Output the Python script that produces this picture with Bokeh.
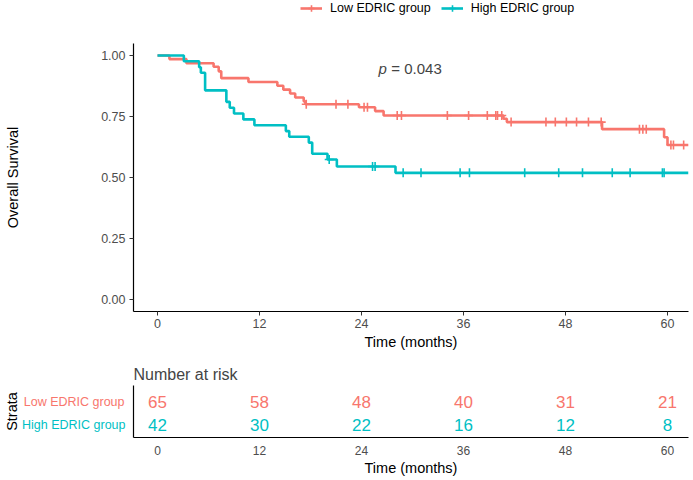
import numpy as np
from bokeh.plotting import figure
from bokeh.layouts import column
from bokeh.models import Range1d, FixedTicker, Legend, LegendItem, Label, LinearAxis
from bokeh.embed import file_html
from bokeh.resources import INLINE

# ---------------- data ----------------
groups = ["Low EDRIC group", "High EDRIC group"]
colors = ["#F8766D", "#00BFC4"]

low_times = [0, 1.4, 3.4, 6.6, 7.2, 7.5, 10.7, 14.1, 14.8, 15.6, 16.2, 17.2, 17.4,
             23.7, 25.6, 26.6, 40.7, 41.1, 52.3, 59.6, 60.0]
low_surv = [1.0, 0.985, 0.968, 0.954, 0.935, 0.907, 0.891, 0.876, 0.860, 0.844, 0.828,
            0.812, 0.800, 0.788, 0.772, 0.754, 0.741, 0.727, 0.698, 0.665, 0.633]
low_censor = [17.5, 21.0, 22.4, 24.3, 24.7, 28.2, 28.7, 34.1, 36.6, 38.8, 39.8, 40.0,
              40.5, 41.6, 45.7, 46.8, 48.1, 49.3, 50.7, 52.2, 56.7, 57.1, 57.5, 60.4,
              60.7, 61.9]

high_times = [0, 3.1, 4.9, 5.1, 5.6, 8.1, 8.5, 9.0, 10.1, 11.4, 15.1, 15.5, 17.8, 18.2,
              20.0, 21.1, 28.0]
high_surv = [1.0, 0.976, 0.952, 0.929, 0.857, 0.810, 0.786, 0.762, 0.738, 0.714, 0.690,
             0.667, 0.643, 0.597, 0.574, 0.545, 0.519]
high_censor = [20.2, 25.3, 25.6, 28.9, 31.0, 35.6, 36.7, 43.2, 47.2, 50.0, 53.5, 55.6,
               59.4, 59.6]

risk_times = [0, 12, 24, 36, 48, 60]
low_risk = [65, 58, 48, 40, 31, 21]
high_risk = [42, 30, 22, 16, 12, 8]

x_ticks = [0, 12, 24, 36, 48, 60]
y_ticks = [0.0, 0.25, 0.5, 0.75, 1.0]
p_text = "= 0.043"

X_START = -2.824
X_END = 62.47
FONT = "Liberation Sans"

series = [
    (groups[0], colors[0], low_times, low_surv, low_censor),
    (groups[1], colors[1], high_times, high_surv, high_censor),
]


def surv_at(t, times, surv):
    idx = np.searchsorted(np.array(times), t, side="right") - 1
    return [surv[i] for i in np.atleast_1d(idx)]


def draw_km(fig, times, surv, cens, col):
    xs = list(times) + [X_END]
    ys = list(surv) + [surv[-1]]
    a = fig.step(xs, ys, mode="after", line_color=col, line_width=2.6)
    b = fig.scatter(cens, surv_at(cens, times, surv), marker="cross", size=9,
                    line_color=col, line_width=1.6)
    return a, b


def plain_axis(ax, tick_out):
    ax.axis_line_color = "#000000"
    ax.axis_line_width = 1.2
    ax.major_tick_line_color = "#333333"
    ax.major_tick_out = tick_out
    ax.major_tick_in = 0
    ax.minor_tick_out = 0
    ax.minor_tick_in = 0
    ax.major_label_text_font = FONT
    ax.major_label_text_color = "#4D4D4D"
    ax.axis_label_text_font = FONT
    ax.axis_label_text_font_size = "14.5px"
    ax.axis_label_text_font_style = "normal"
    ax.axis_label_text_color = "#000000"


# ---------------- legend strip (curves lie outside its visible range) ----------------
lg = figure(width=693, height=43, output_backend="svg", toolbar_location=None,
            x_axis_location=None, y_axis_location=None,
            x_range=Range1d(X_START, X_END), y_range=Range1d(5, 6),
            min_border_left=0, min_border_right=0, min_border_top=0,
            min_border_bottom=0)
lg.outline_line_color = None
lg.xgrid.visible = False
lg.ygrid.visible = False
items = []
for name, col, times, surv, cens in series:
    a, b = draw_km(lg, times, surv, cens, col)
    items.append(LegendItem(label=name, renderers=[a, b]))
legend = Legend(items=items, orientation="horizontal", location=(167, 27),
                border_line_color=None, background_fill_alpha=0,
                label_text_font=FONT, label_text_font_size="12.5px",
                label_text_color="#000000", glyph_width=22, glyph_height=16,
                label_height=16, label_standoff=8, spacing=10, padding=0, margin=0)
lg.add_layout(legend)

# ---------------- main KM plot ----------------
p = figure(width=693, height=312, output_backend="svg", toolbar_location=None,
           x_range=Range1d(X_START, X_END), y_range=Range1d(-0.049, 1.049),
           min_border_left=133, min_border_right=5, min_border_top=0,
           min_border_bottom=44)
p.outline_line_color = None
p.xgrid.visible = False
p.ygrid.visible = False

for name, col, times, surv, cens in series:
    draw_km(p, times, surv, cens, col)

p.xaxis.ticker = FixedTicker(ticks=x_ticks)
p.yaxis.ticker = FixedTicker(ticks=y_ticks)
p.yaxis.major_label_overrides = {v: f"{v:.2f}" for v in y_ticks}
for ax in (p.xaxis[0], p.yaxis[0]):
    plain_axis(ax, 4)
    ax.major_label_text_font_size = "12.5px"
p.xaxis.axis_label = "Time (months)"
p.yaxis.axis_label = "Overall Survival"
p.xaxis.major_label_standoff = 3
p.xaxis.axis_label_standoff = 3
p.yaxis.major_label_standoff = 4
p.yaxis.axis_label_standoff = 77

p.add_layout(Label(x=26.0, y=0.947, text="p", text_font=FONT, text_font_size="15px",
                   text_font_style="italic", text_baseline="middle"))
p.add_layout(Label(x=27.5, y=0.947, text=p_text, text_font=FONT, text_font_size="15px",
                   text_baseline="middle"))

# ---------------- risk table ----------------
t = figure(width=693, height=125, output_backend="svg", toolbar_location=None,
           x_range=Range1d(X_START, X_END), y_range=Range1d(0.41, 2.77),
           min_border_left=133, min_border_right=5, min_border_top=30,
           min_border_bottom=43, title="Number at risk")
t.title.text_font = FONT
t.title.text_font_size = "16px"
t.title.text_font_style = "normal"
t.title.align = "left"
t.title.standoff = 6
t.outline_line_color = None
t.xgrid.visible = False
t.ygrid.visible = False

rows = [2, 1]
for row, col, vals in [(rows[0], colors[0], low_risk), (rows[1], colors[1], high_risk)]:
    t.text(risk_times, [row] * len(risk_times), text=[str(v) for v in vals],
           text_color=col, text_font_size="17px", text_align="center",
           text_baseline="middle", text_font={"value": FONT})

t.xaxis.ticker = FixedTicker(ticks=x_ticks)
plain_axis(t.xaxis[0], 0)
t.xaxis.major_label_text_font_size = "12px"
t.xaxis.axis_label = "Time (months)"
t.xaxis.major_label_standoff = 8
t.xaxis.axis_label_standoff = 2

# inner left axis: frame line + teal stratum label
ya = t.yaxis[0]
plain_axis(ya, 0)
ya.ticker = FixedTicker(ticks=[rows[1]])
ya.major_label_overrides = {rows[1]: groups[1]}
ya.major_label_text_color = colors[1]
ya.major_label_text_font_size = "12.5px"
ya.major_label_standoff = 8

# outer left axis: red stratum label pulled back beside the frame, plus "Strata"
yb = LinearAxis(ticker=FixedTicker(ticks=[rows[0]]),
                major_label_overrides={rows[0]: groups[0]})
plain_axis(yb, 0)
yb.axis_line_color = None
yb.major_label_text_color = colors[0]
yb.major_label_text_font_size = "12.5px"
yb.major_label_standoff = -106
yb.axis_label = "Strata"
yb.axis_label_standoff = 1
t.add_layout(yb, "left")

layout = column(lg, p, t, spacing=0)
open("out.html", "w").write(file_html(layout, INLINE))
